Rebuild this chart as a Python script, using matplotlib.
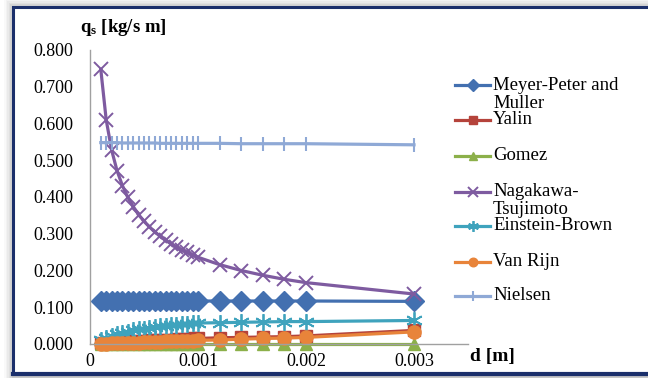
import matplotlib.pyplot as plt
from matplotlib.lines import Line2D
from matplotlib.patches import Rectangle

plt.rcParams['font.family'] = ['Liberation Serif', 'DejaVu Serif']
plt.rcParams['mathtext.fontset'] = 'custom'
plt.rcParams['mathtext.bf'] = 'Liberation Serif:bold'
plt.rcParams['mathtext.rm'] = 'Liberation Serif'

# grain diameter d [m]
d = [0.0001, 0.00015, 0.0002, 0.00025, 0.0003, 0.00035, 0.0004, 0.00045, 0.0005,
     0.00055, 0.0006, 0.00065, 0.0007, 0.00075, 0.0008, 0.00085, 0.0009, 0.00095,
     0.001, 0.0012, 0.0014, 0.0016, 0.0018, 0.002, 0.003]

# sediment transport q_s [kg/s m]
meyer = [0.117] * 24 + [0.116]
yalin = [0.002, 0.003, 0.004, 0.005, 0.006, 0.007, 0.008, 0.008, 0.009, 0.010,
         0.011, 0.011, 0.012, 0.012, 0.013, 0.014, 0.014, 0.015, 0.015,
         0.017, 0.018, 0.019, 0.020, 0.022, 0.037]
gomez = [0.000] * 25
nagakawa = [0.747, 0.610, 0.528, 0.472, 0.431, 0.399, 0.374, 0.352, 0.334,
            0.319, 0.305, 0.293, 0.282, 0.273, 0.264, 0.256, 0.249, 0.242,
            0.236, 0.216, 0.200, 0.187, 0.176, 0.167, 0.136]
einstein = [0.010, 0.016, 0.021, 0.026, 0.030, 0.034, 0.037, 0.040, 0.042,
            0.044, 0.046, 0.048, 0.050, 0.051, 0.053, 0.054, 0.055, 0.056,
            0.057, 0.058, 0.059, 0.060, 0.061, 0.061, 0.064]
vanrijn = [0.001, 0.001, 0.002, 0.002, 0.003, 0.003, 0.004, 0.004, 0.005,
           0.005, 0.006, 0.006, 0.007, 0.007, 0.008, 0.008, 0.009, 0.009,
           0.010, 0.011, 0.013, 0.015, 0.016, 0.018, 0.033]
nielsen = [0.548, 0.548, 0.548, 0.548, 0.547, 0.547, 0.547, 0.547, 0.547,
           0.547, 0.547, 0.546, 0.546, 0.546, 0.546, 0.546, 0.546, 0.546,
           0.546, 0.546, 0.545, 0.545, 0.545, 0.545, 0.542]

series = [
    ('Meyer-Peter and\nMuller', meyer, '#4370B0', 'D', 10, None),
    ('Yalin', yalin, '#B5433B', 's', 8, None),
    ('Gomez', gomez, '#8CB04A', '^', 9, None),
    ('Nagakawa-\nTsujimoto', nagakawa, '#7E5BA0', 'x', 10, 1.4),
    ('Einstein-Brown', einstein, '#3FA3BD', (6, 2, 0), 12, 1.3),
    ('Van Rijn', vanrijn, '#E8843A', 'o', 9.5, None),
    ('Nielsen', nielsen, '#8FA9D6', '|', 10, 1.5),
]

fig = plt.figure(figsize=(6.48, 3.78), dpi=100)
W, H = 648, 378

def fx(px):
    return px / W

def fy(py):
    return 1 - py / H

# frame: shadow + navy border
for i, a in enumerate([0.04, 0.05, 0.06, 0.08, 0.1, 0.12]):
    off = 9 - i * 1.5
    fig.patches.append(Rectangle((fx(13 - off), fy(380)), 1, fy(7 - off) - fy(380),
                                 transform=fig.transFigure, facecolor='#707070',
                                 alpha=a, edgecolor='none', zorder=0))
fig.patches.append(Rectangle((fx(13), fy(374)), 1, fy(7) - fy(374), transform=fig.transFigure,
                             facecolor='white', edgecolor='#1B2F6B', linewidth=2.2, zorder=1))
fig.lines.append(Line2D([fx(13), 1], [fy(374), fy(374)], transform=fig.transFigure,
                        color='#1B2F6B', linewidth=3, zorder=2))

ax = fig.add_axes([fx(90), fy(344), fx(468) - fx(90), fy(50) - fy(344)])
ax.set_facecolor('none')
ax.set_zorder(5)

for label, q, c, m, ms, mew in series:
    kw = {}
    if mew:
        kw['markeredgewidth'] = mew
    ax.plot(d, q, color=c, marker=m, markersize=ms, linewidth=2.3,
            markerfacecolor=c, markeredgecolor=c, clip_on=False, **kw)

ax.set_xlim(0, 0.0035)
ax.set_ylim(0, 0.8)
ax.set_xticks([0, 0.001, 0.002, 0.003])
ax.set_xticklabels(['0', '0.001', '0.002', '0.003'])
ax.set_yticks([i / 10 for i in range(9)])
ax.set_yticklabels(['%.3f' % (i / 10) for i in range(9)])
ax.tick_params(length=0, labelsize=13)
ax.tick_params(axis='x', pad=6.5)
ax.tick_params(axis='y', pad=12)
for s in ['top', 'right']:
    ax.spines[s].set_visible(False)
for s in ['left', 'bottom']:
    ax.spines[s].set_color('#A0A0A0')
    ax.spines[s].set_linewidth(1)

fig.text(fx(80), fy(28), r'$\mathbf{q_s}$ [kg/s m]', fontsize=13.5, fontweight='bold',
         va='center', ha='left', zorder=6)
fig.text(fx(470), fy(357), 'd [m]', fontsize=14, fontweight='bold', va='center', ha='left',
         zorder=6)

# legend
leg_y = [85, 120, 156, 192, 226, 262, 296]
for (label, q, c, m, ms, mew), y in zip(series, leg_y):
    fig.lines.append(Line2D([fx(455), fx(490)], [fy(y), fy(y)], transform=fig.transFigure,
                            color=c, linewidth=2.3, zorder=3))
    fig.lines.append(Line2D([fx(472.5)], [fy(y)], transform=fig.transFigure, marker=m,
                            markersize=ms * 0.65, color=c, markeredgewidth=mew or 1,
                            zorder=4))
    lines = label.split('\n')
    for k, t in enumerate(lines):
        fig.text(fx(493), fy(y + k * 18), t, fontsize=13.5, va='center', ha='left', zorder=6)

fig.savefig('out.png', dpi=100)
